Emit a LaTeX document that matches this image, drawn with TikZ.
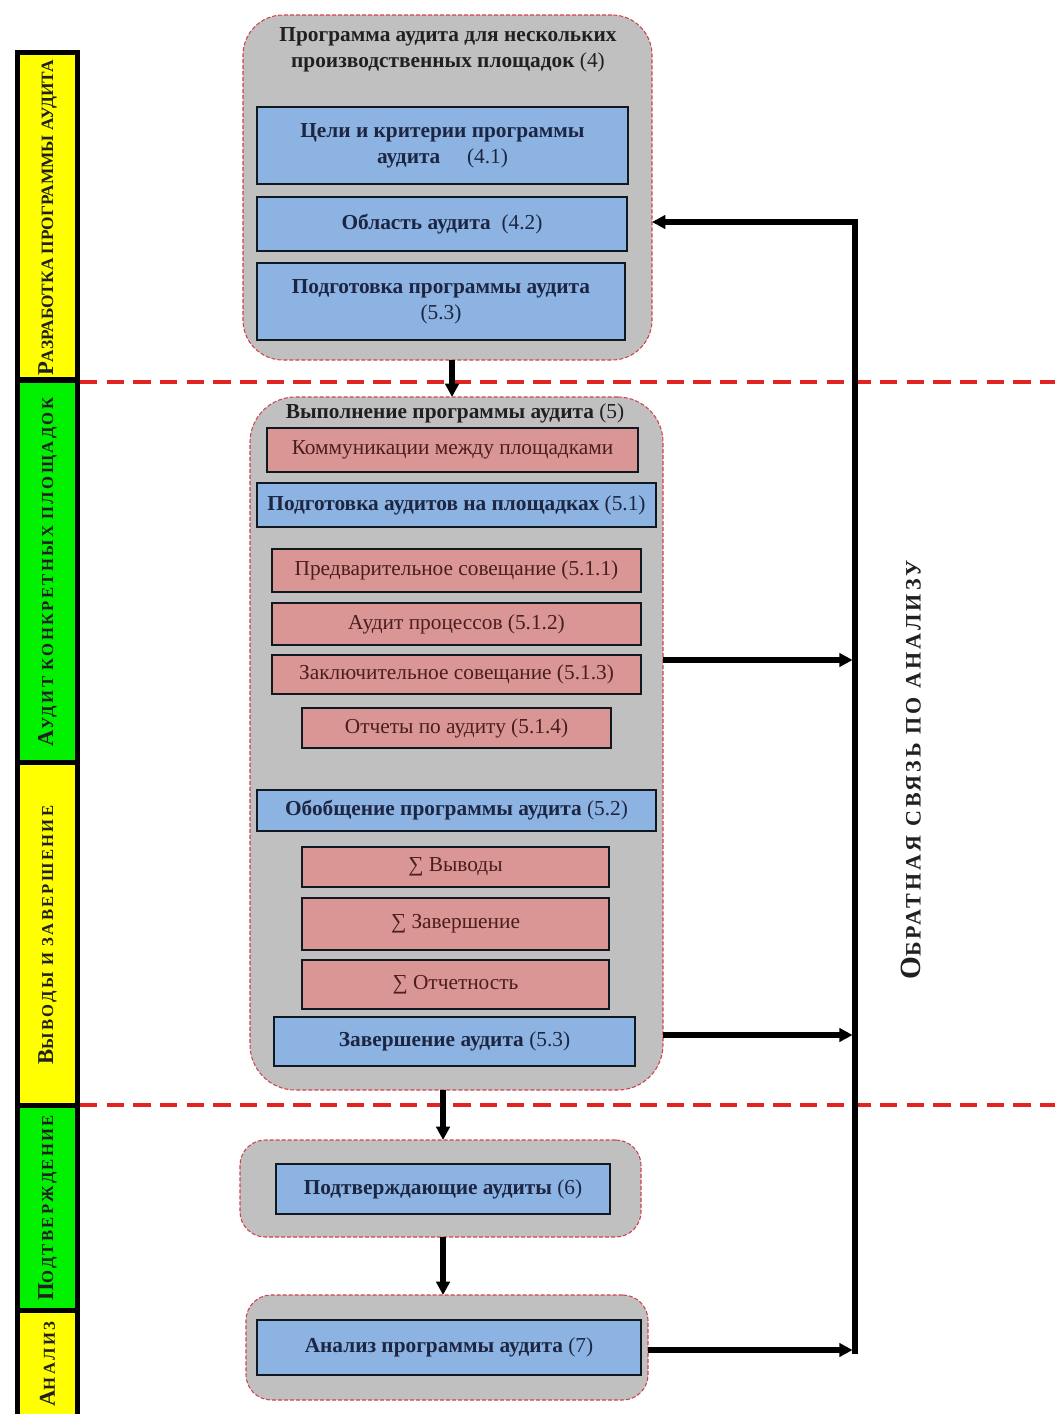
\documentclass[tikz,border=0pt]{standalone}
\usepackage{fontspec}
\setmainfont{Liberation Serif}
\newfontfamily\spacedfont[LetterSpace=14]{Liberation Serif}
\usetikzlibrary{arrows.meta}
\definecolor{cgray}{HTML}{C0C0C0}
\definecolor{cblue}{HTML}{8DB3E2}
\definecolor{cpink}{HTML}{D99694}
\definecolor{cyellow}{HTML}{FFFF00}
\definecolor{cgreen}{HTML}{00F000}
\definecolor{cred}{HTML}{E32222}
\definecolor{cdash}{HTML}{D0424F}
\definecolor{cedge}{HTML}{101820}
\definecolor{cbtext}{HTML}{1C2642}
\definecolor{cptext}{HTML}{4A1E1E}
\definecolor{ctext}{HTML}{202020}
\newcommand\boxfont{\fontsize{16pt}{19.5pt}\selectfont}
\newcommand\barcaps[2]{{\fontsize{17pt}{17pt}\selectfont #1}{\fontsize{12.5pt}{12.5pt}\selectfont #2}}
\newcommand\bigcaps[2]{{\fontsize{22pt}{22pt}\selectfont #1}{\fontsize{16.5pt}{16.5pt}\selectfont #2}}
\begin{document}
\begin{tikzpicture}[x=0.75pt,y=-0.75pt,
 container/.style={draw=cdash, line width=0.8pt, dash pattern=on 3pt off 1.5pt, fill=cgray, inner sep=0pt, outer sep=0pt},
 bluebox/.style={draw=cedge, line width=1.3pt, fill=cblue, inner sep=0pt, outer sep=0pt, align=center, text=cbtext, font=\boxfont\bfseries},
 pinkbox/.style={draw=cedge, line width=1.3pt, fill=cpink, inner sep=0pt, outer sep=0pt, align=center, text=cptext, font=\boxfont},
 titletext/.style={align=center, text=ctext, font=\boxfont\bfseries, inner sep=0pt},
 bar/.style={draw=black, line width=3.75pt, inner sep=0pt, outer sep=0pt, minimum width=45pt},
 barlabel/.style={rotate=90, text=ctext, font=\spacedfont\bfseries, inner sep=0pt},
 arr/.style={line width=3.9pt, draw=black, line join=miter, -{Triangle[length=10pt,width=10pt]}},
 divider/.style={draw=cred, line width=3pt, dash pattern=on 13pt off 7pt},
]
\useasboundingbox (0,0) rectangle (1055,1414);
\clip (0,0) rectangle (1055,1414);
\fill[white] (0,0) rectangle (1055,1414);

% left phase bars
\node[bar, fill=cyellow, minimum height=245.6pt] (bar1) at (47.5,216.25) {};
\node[bar, fill=cgreen, minimum height=286.5pt] (bar2) at (47.5,571) {};
\node[bar, fill=cyellow, minimum height=257.25pt] (bar3) at (47.5,933.5) {};
\node[bar, fill=cgreen, minimum height=153.75pt] (bar4) at (47.5,1207.5) {};
\node[bar, fill=cyellow, minimum height=90pt] (bar5) at (47.5,1370) {};
\node[barlabel, font=\bfseries] (lab1) at (47.5,218) {{\fontsize{17pt}{17pt}\selectfont Р}{\fontsize{13pt}{13pt}\selectfont АЗРАБОТКА ПРОГРАММЫ АУДИТА}};
\node[barlabel] (lab2) at (47.5,572) {\barcaps{А}{УДИТ КОНКРЕТНЫХ ПЛОЩАДОК}};
\node[barlabel] (lab3) at (47.5,935) {\barcaps{В}{ЫВОДЫ И ЗАВЕРШЕНИЕ}};
\node[barlabel] (lab4) at (47.5,1208) {\barcaps{П}{ОДТВЕРЖДЕНИЕ}};
\node[barlabel] (lab5) at (47.5,1364) {\barcaps{А}{НАЛИЗ}};

% dividers
\draw[divider] (80,382) -- (1060,382);
\draw[divider] (80,1105) -- (1060,1105);

% top container
\node[container, rounded corners=30pt, minimum width=306.75pt, minimum height=258.75pt] (T) at (447.5,187.5) {};
\node[titletext] (Tt) at (448,50) {Программа аудита для нескольких\\производственных площадок \textmd{(4)}};
\node[bluebox, minimum width=278.25pt, minimum height=57.75pt] (b41) at (442.5,145.5) {Цели и критерии программы\\аудита \quad\textmd{(4.1)}};
\node[bluebox, minimum width=277.5pt, minimum height=40.5pt] (b42) at (442,224) {Область аудита \ \textmd{(4.2)}};
\node[bluebox, minimum width=276pt, minimum height=57.75pt] (b53a) at (441,301.5) {Подготовка программы аудита\\\textmd{(5.3)}};

% execution container
\node[container, rounded corners=34pt, minimum width=309.75pt, minimum height=519.75pt] (E) at (456.5,743.5) {};
\node[titletext] (Et) at (455,413) {Выполнение программы аудита \textmd{(5)}};
\node[pinkbox, minimum width=278.25pt, minimum height=33pt] (p1) at (452.5,450) {Коммуникации между площадками};
\node[bluebox, minimum width=299.25pt, minimum height=33pt] (b51) at (456.5,505) {Подготовка аудитов на площадках \textmd{(5.1)}};
\node[pinkbox, minimum width=276.75pt, minimum height=32.25pt] (p511) at (456.5,570.5) {Предварительное совещание (5.1.1)};
\node[pinkbox, minimum width=276.75pt, minimum height=31.5pt] (p512) at (456.5,624) {Аудит процессов (5.1.2)};
\node[pinkbox, minimum width=276.75pt, minimum height=29.25pt] (p513) at (456.5,674.5) {Заключительное совещание (5.1.3)};
\node[pinkbox, minimum width=231.75pt, minimum height=30pt] (p514) at (456.5,728) {Отчеты по аудиту (5.1.4)};
\node[bluebox, minimum width=299.25pt, minimum height=30.75pt] (b52) at (456.5,810.5) {Обобщение программы аудита \textmd{(5.2)}};
\node[pinkbox, minimum width=230.25pt, minimum height=30pt] (s1) at (455.5,867) {∑ Выводы};
\node[pinkbox, minimum width=230.25pt, minimum height=39pt] (s2) at (455.5,924) {∑ Завершение};
\node[pinkbox, minimum width=230.25pt, minimum height=36.75pt] (s3) at (455.5,984.5) {∑ Отчетность};
\node[bluebox, minimum width=270.75pt, minimum height=36.75pt] (b53) at (454.5,1041.5) {Завершение аудита \textmd{(5.3)}};

% confirmation container
\node[container, rounded corners=19pt, minimum width=300.75pt, minimum height=72.75pt] (C) at (440.5,1188.5) {};
\node[bluebox, minimum width=250.5pt, minimum height=37.5pt] (b6) at (443,1189) {Подтверждающие аудиты \textmd{(6)}};

% analysis container
\node[container, rounded corners=19pt, minimum width=301.5pt, minimum height=78.75pt] (A) at (447,1347.5) {};
\node[bluebox, minimum width=288pt, minimum height=41.25pt] (b7) at (449,1347.5) {Анализ программы аудита \textmd{(7)}};

% feedback label
\node[rotate=90, text=ctext, font=\spacedfont\bfseries, inner sep=0pt] (fb) at (911,770) {\bigcaps{О}{БРАТНАЯ СВЯЗЬ ПО АНАЛИЗУ}};

% flow arrows
\draw[arr] ([xshift=3.4pt]T.south) -- ([xshift=3.4pt]T.south |- E.north);
\draw[arr] ([xshift=1.9pt]C.north |- E.south) -- ([xshift=1.9pt]C.north);
\draw[arr] ([xshift=1.9pt]C.south) -- ([xshift=1.9pt]C.south |- A.north);

% feedback loop
\coordinate (FT) at (855,222);
\coordinate (F1) at (855,660);
\coordinate (F2) at (855,1035);
\coordinate (F3) at (855,1350);
\draw[arr] ([yshift=-3pt]F3) -- (FT) -- (T.east |- FT);
\draw[arr] (E.east |- F1) -- ([xshift=-1.8pt]F1);
\draw[arr] (E.east |- F2) -- ([xshift=-1.8pt]F2);
\draw[arr] (A.east |- F3) -- ([xshift=-1.8pt]F3);
\end{tikzpicture}
\end{document}
